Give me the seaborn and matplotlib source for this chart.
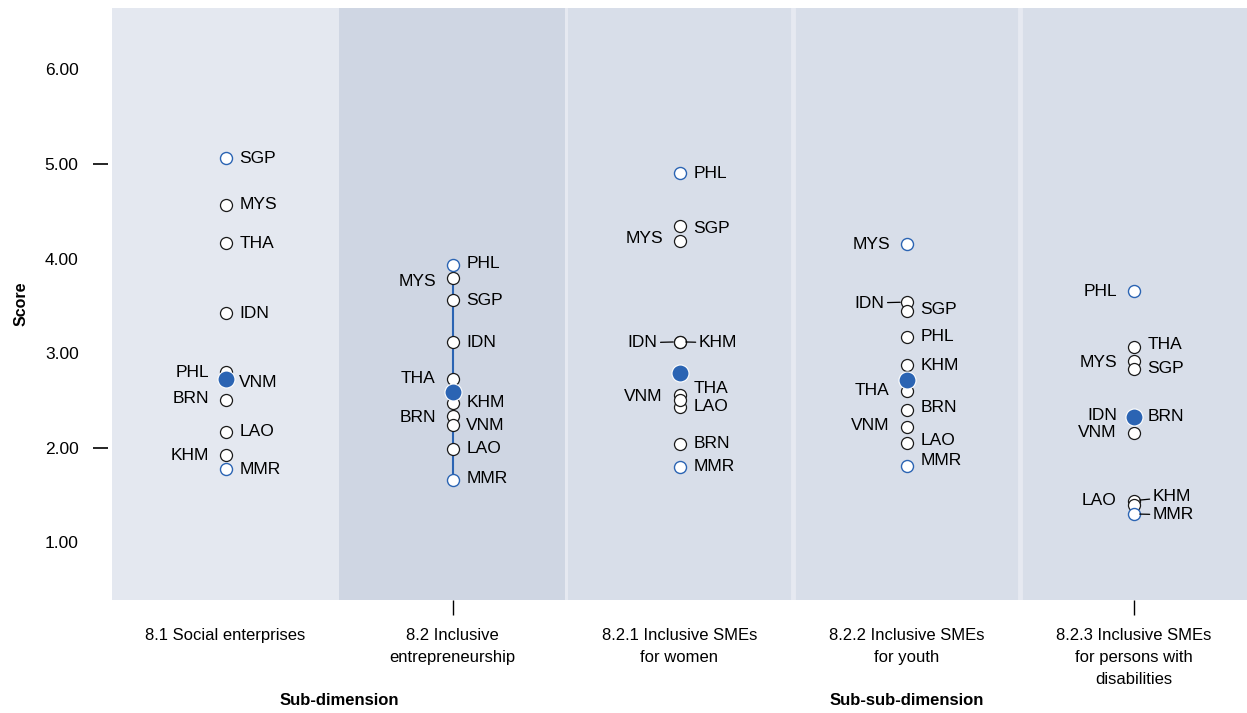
import pandas as pd
import seaborn as sns
import matplotlib.pyplot as plt
from matplotlib.transforms import blended_transform_factory

# data
dimensions = ["8.1 Social enterprises",
              "8.2 Inclusive\nentrepreneurship",
              "8.2.1 Inclusive SMEs\nfor women",
              "8.2.2 Inclusive SMEs\nfor youth",
              "8.2.3 Inclusive SMEs\nfor persons with\ndisabilities"]
countries = ["BRN", "KHM", "IDN", "LAO", "MYS", "MMR", "PHL", "SGP", "THA", "VNM"]
scores_81 = [2.50, 1.92, 3.42, 2.17, 4.57, 1.77, 2.80, 5.06, 4.16, 2.72]
scores_82 = [2.34, 2.47, 3.12, 1.99, 3.79, 1.66, 3.93, 3.56, 2.73, 2.24]
scores_821 = [2.04, 3.12, 3.12, 2.43, 4.19, 1.80, 4.90, 4.35, 2.56, 2.50]
scores_822 = [2.40, 2.87, 3.54, 2.05, 4.15, 1.81, 3.17, 3.45, 2.60, 2.22]
scores_823 = [2.33, 1.44, 2.33, 1.39, 2.92, 1.30, 3.66, 2.83, 3.07, 2.16]
median_scores = [2.73, 2.59, 2.79, 2.72, 2.33]
y_ticks = [1, 2, 3, 4, 5, 6]
group_labels = ["Sub-dimension", "Sub-sub-dimension"]

all_scores = [scores_81, scores_82, scores_821, scores_822, scores_823]

# label placement: side (L/R), label height, leader line
label_layout = [
    {"SGP": ("R", 5.06), "MYS": ("R", 4.57), "THA": ("R", 4.16), "IDN": ("R", 3.42),
     "PHL": ("L", 2.80), "VNM": ("R", 2.69), "BRN": ("L", 2.52), "LAO": ("R", 2.17),
     "KHM": ("L", 1.92), "MMR": ("R", 1.77)},
    {"PHL": ("R", 3.95), "MYS": ("L", 3.76), "SGP": ("R", 3.56), "IDN": ("R", 3.11),
     "THA": ("L", 2.73), "KHM": ("R", 2.48), "BRN": ("L", 2.32), "VNM": ("R", 2.24),
     "LAO": ("R", 1.99), "MMR": ("R", 1.67)},
    {"PHL": ("R", 4.90), "SGP": ("R", 4.32), "MYS": ("L", 4.21), "IDN": ("L", 3.11, True),
     "KHM": ("R", 3.11, True), "VNM": ("L", 2.54), "THA": ("R", 2.63), "LAO": ("R", 2.44),
     "BRN": ("R", 2.04), "MMR": ("R", 1.80)},
    {"MYS": ("L", 4.15), "IDN": ("L", 3.53, True), "SGP": ("R", 3.46), "PHL": ("R", 3.18),
     "KHM": ("R", 2.87), "THA": ("L", 2.61), "BRN": ("R", 2.43), "VNM": ("L", 2.23),
     "LAO": ("R", 2.08), "MMR": ("R", 1.86)},
    {"PHL": ("L", 3.65), "THA": ("R", 3.09), "MYS": ("L", 2.90), "SGP": ("R", 2.84),
     "IDN": ("L", 2.34), "BRN": ("R", 2.33), "VNM": ("L", 2.16), "LAO": ("L", 1.44),
     "KHM": ("R", 1.48, True), "MMR": ("R", 1.29, True)},
]

rows = []
for i, vals in enumerate(all_scores):
    for c, v in zip(countries, vals):
        rows.append({"x": i, "country": c, "score": v})
df = pd.DataFrame(rows)
df["extreme"] = df.groupby("x")["score"].transform(lambda s: (s == s.max()) | (s == s.min()))

blue = "#2b64b3"
panel_colors = ["#e4e8f0", "#cfd6e3", "#d8dee9", "#d8dee9", "#d8dee9"]

sns.set_theme(style="white")
plt.rcParams['font.family'] = ['Liberation Sans', 'DejaVu Sans']
plt.rcParams['text.color'] = 'black'
plt.rcParams['axes.labelcolor'] = 'black'
plt.rcParams['xtick.color'] = 'black'
plt.rcParams['ytick.color'] = 'black'

fig = plt.figure(figsize=(12.47, 7.13), dpi=100)
ax = fig.add_axes([112 / 1247, 113 / 713, 1135 / 1247, 592 / 713])

for i, col in enumerate(panel_colors):
    ax.axvspan(i - 0.5, i + 0.5, color=col, lw=0, zorder=0)
for xs, w in [(1.5, 2.2), (2.5, 3.5), (3.5, 3.5)]:
    ax.axvline(xs, color="#e6e9f1", lw=w, zorder=0.5)

# range line for 8.2
sub = df[df.x == 1]
ax.vlines(1, sub.score.min(), sub.score.max(), color=blue, lw=1.5, zorder=1)

sns.scatterplot(data=df[~df.extreme], x="x", y="score", s=75, color="white",
                edgecolor="#1a1a1a", linewidth=0.9, zorder=3, ax=ax, legend=False)
sns.scatterplot(data=df[df.extreme], x="x", y="score", s=75, color="white",
                edgecolor=blue, linewidth=1.0, zorder=3, ax=ax, legend=False)
sns.scatterplot(x=list(range(len(median_scores))), y=median_scores, s=150, color=blue,
                edgecolor="white", linewidth=0.8, zorder=5, ax=ax, legend=False)

lab_fs = 12.5
for _, r in df.iterrows():
    lay = label_layout[r.x][r.country]
    side, ly = lay[0], lay[1]
    leader = len(lay) > 2
    dx = 10 if side == "R" else -12
    if leader:
        dx = 14 if side == "R" else -16
        ax.annotate(r.country, xy=(r.x, r.score), xytext=(dx, (ly - r.score) * 68),
                    textcoords="offset points", ha="left" if side == "R" else "right",
                    va="center", fontsize=lab_fs, color="black", zorder=6,
                    arrowprops=dict(arrowstyle="-", color="black", lw=0.9, shrinkA=0, shrinkB=4.5))
    else:
        ax.annotate(r.country, xy=(r.x, ly), xytext=(dx, 0), textcoords="offset points",
                    ha="left" if side == "R" else "right", va="center",
                    fontsize=lab_fs, color="black", zorder=6)

ax.set_xlim(-0.5, 4.5)
ax.set_ylim(0.39, 6.65)
for s in ax.spines.values():
    s.set_visible(False)
ax.spines["left"].set_position(("outward", 3))

ax.yaxis.remove_overlapping_locs = False
ax.xaxis.remove_overlapping_locs = False

ax.set_yticks(y_ticks)
ax.set_yticklabels([f"{t:.2f}" for t in y_ticks], fontsize=12.5)
ax.set_yticks([2, 5], minor=True)
ax.tick_params(axis="y", which="major", length=0, pad=21)
ax.tick_params(axis="y", which="minor", length=11, width=1.2, color="black", left=True)

ax.set_xticks(range(len(dimensions)))
ax.set_xticklabels(dimensions, fontsize=12, linespacing=1.6)
ax.set_xticks([1, 4], minor=True)
ax.tick_params(axis="x", which="major", length=0, pad=20)
ax.tick_params(axis="x", which="minor", length=10.5, width=1.0, color="black", bottom=True)

ax.set_xlabel("")
ax.set_ylabel("Score", fontsize=11.5, fontweight="bold", labelpad=12)

trans = blended_transform_factory(ax.transData, ax.transAxes)
ax.text(0.5, -0.17, group_labels[0], transform=trans, ha="center", va="center",
        fontsize=12, fontweight="bold")
ax.text(3.0, -0.17, group_labels[1], transform=trans, ha="center", va="center",
        fontsize=12, fontweight="bold")

fig.savefig("out.png", dpi=100)
